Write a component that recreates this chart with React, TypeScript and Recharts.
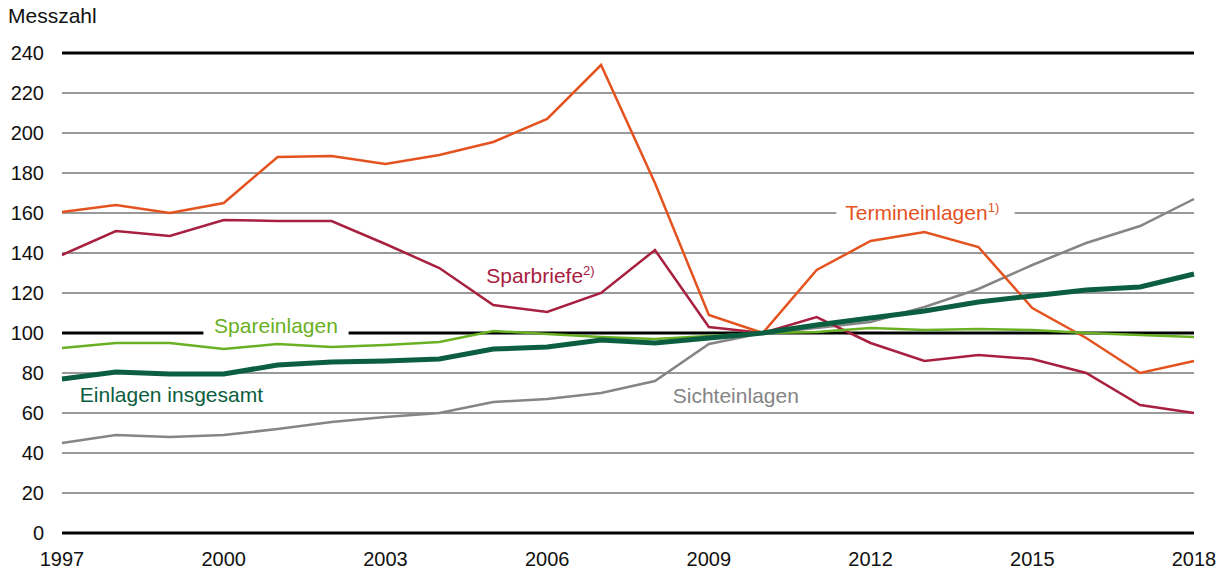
import React from 'react'
import {
  CartesianGrid,
  Line,
  LineChart,
  ReferenceDot,
  ReferenceLine,
  XAxis,
  YAxis
} from 'recharts'

document.body.style.margin = '0'

const years = [
  1997, 1998, 1999, 2000, 2001, 2002, 2003, 2004, 2005, 2006, 2007,
  2008, 2009, 2010, 2011, 2012, 2013, 2014, 2015, 2016, 2017, 2018
]
const termineinlagen = [
  160.5, 164, 160, 165, 188, 188.5, 184.5, 189, 195.5, 207, 234,
  175, 109, 100, 131.5, 146, 150.5, 143, 112.5, 97.5, 80, 86
]
const sparbriefe = [
  139, 151, 148.5, 156.5, 156, 156, 144.5, 132.5, 114, 110.5, 120,
  141.5, 103, 100, 108, 95, 86, 89, 87, 80, 64, 60
]
const sichteinlagen = [
  45, 49, 48, 49, 52, 55.5, 58, 60, 65.5, 67, 70,
  76, 94.5, 100, 102.5, 105.5, 113, 122, 134, 145, 153.5, 167
]
const spareinlagen = [
  92.5, 95, 95, 92, 94.5, 93, 94, 95.5, 101, 99.5, 98,
  97, 98.5, 100, 100.5, 102.5, 101.5, 102, 101.5, 100, 99, 98
]
const insgesamt = [
  77, 80.5, 79.5, 79.5, 84, 85.5, 86, 87, 92, 93, 96.5,
  95, 97.5, 100, 104, 107.5, 111, 115.5, 118.5, 121.5, 123, 129.5
]
const xTicks = [1997, 2000, 2003, 2006, 2009, 2012, 2015, 2018]
const yTicks = [0, 20, 40, 60, 80, 100, 120, 140, 160, 180, 200, 220, 240]
const blackLines = [0, 100, 240]

const data = years.map((year, i) => ({
  year,
  termin: termineinlagen[i],
  spar: sparbriefe[i],
  sicht: sichteinlagen[i],
  spareinl: spareinlagen[i],
  total: insgesamt[i]
}))

const font = '"Liberation Sans", Arial, sans-serif'

// series labels, anchored in data space
const labels = [
  { x: 2000.97, y: 103.5, text: 'Spareinlagen', sup: '', color: '#6ab023', anchor: 'middle', box: true },
  { x: 1997.33, y: 69, text: 'Einlagen insgesamt', sup: '', color: '#0b5e40', anchor: 'start', box: false },
  { x: 2009.5, y: 68.5, text: 'Sichteinlagen', sup: '', color: '#858585', anchor: 'middle', box: false },
  { x: 2004.87, y: 128.5, text: 'Sparbriefe', sup: '2)', color: '#a8203f', anchor: 'start', box: false },
  { x: 2011.53, y: 160, text: 'Termineinlagen', sup: '1)', color: '#e4531f', anchor: 'start', box: true }
]

function SeriesLabel(props: any) {
  const { cx, cy, item } = props
  const w = item.text.length * 10.6 + (item.sup ? 12 : 0) + 18
  const left = item.anchor === 'middle' ? cx - w / 2 : cx - 9
  return (
    <g>
      {item.box && <rect x={left} y={cy - 15} width={w} height={28} fill="#fff" />}
      <text
        x={cx}
        y={cy + 7}
        textAnchor={item.anchor}
        fill={item.color}
        fontSize={21}
        fontFamily={font}
      >
        {item.text}
        {item.sup && (
          <tspan fontSize={13} dy={-8}>
            {item.sup}
          </tspan>
        )}
      </text>
    </g>
  )
}

export default function App() {
  return (
    <div style={{ position: 'relative', width: 1226, height: 574, background: '#fff' }}>
      <div
        style={{
          position: 'absolute',
          left: 8,
          top: 4,
          fontFamily: font,
          fontSize: 21,
          color: '#111'
        }}
      >
        Messzahl
      </div>
      <LineChart width={1226} height={574} data={data} margin={{ top: 53, right: 32, bottom: 0, left: 0 }}>
        <CartesianGrid vertical={false} stroke="#999" strokeWidth={2} />
        {blackLines.map((v) => (
          <ReferenceLine key={v} y={v} stroke="#000" strokeWidth={3} />
        ))}
        <XAxis
          dataKey="year"
          type="number"
          domain={[1997, 2018]}
          ticks={xTicks}
          axisLine={false}
          tickLine={false}
          tickSize={0}
          tickMargin={19}
          height={41}
          tick={{ fill: '#111', fontSize: 20, fontFamily: font }}
        />
        <YAxis
          domain={[0, 240]}
          ticks={yTicks}
          axisLine={false}
          tickLine={false}
          tickSize={0}
          tickMargin={18}
          width={62}
          tick={{ fill: '#111', fontSize: 20, fontFamily: font }}
        />
        <Line dataKey="sicht" stroke="#858585" strokeWidth={2.5} dot={false} isAnimationActive={false} />
        <Line dataKey="spar" stroke="#a8203f" strokeWidth={2.5} dot={false} isAnimationActive={false} />
        <Line dataKey="termin" stroke="#e4531f" strokeWidth={2.5} dot={false} isAnimationActive={false} />
        <Line dataKey="spareinl" stroke="#6ab023" strokeWidth={2.5} dot={false} isAnimationActive={false} />
        <Line dataKey="total" stroke="#0b5e40" strokeWidth={5} dot={false} isAnimationActive={false} />
        {labels.map((item) => (
          <ReferenceDot
            key={item.text}
            x={item.x}
            y={item.y}
            ifOverflow="visible"
            shape={(p: any) => <SeriesLabel {...p} item={item} />}
          />
        ))}
      </LineChart>
    </div>
  )
}
